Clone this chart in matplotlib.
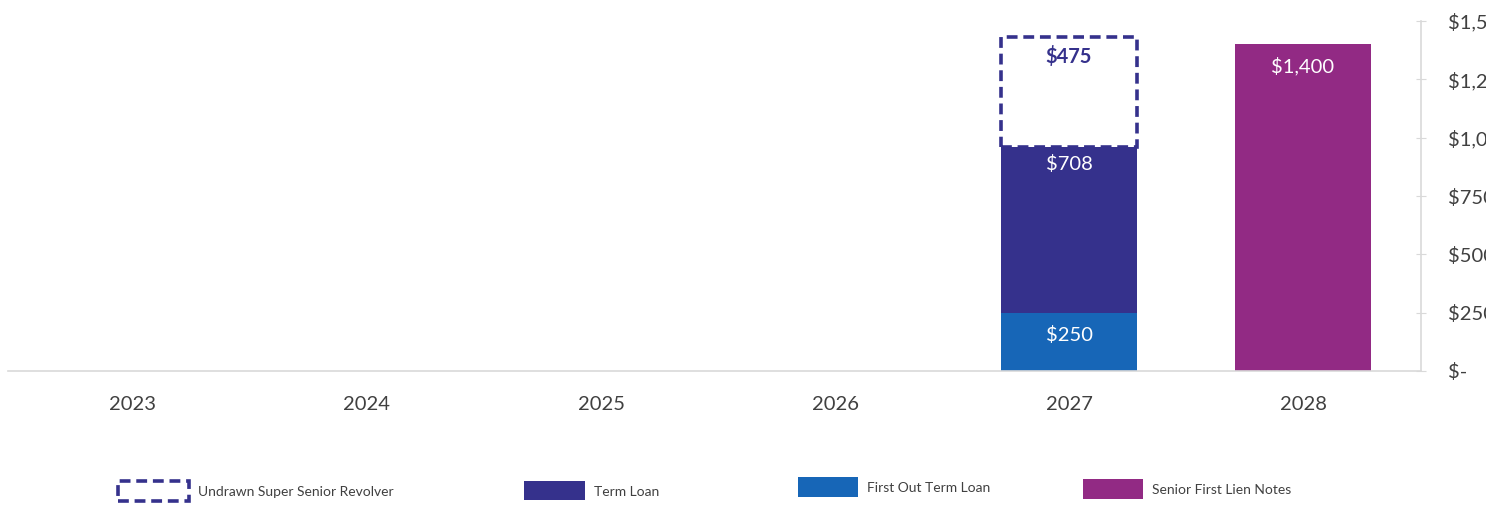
import matplotlib
matplotlib.use("Agg")
import matplotlib.pyplot as plt
from matplotlib.patches import Rectangle
import numpy as np

plt.rcParams['font.family'] = ['Lato', 'DejaVu Sans']

years = ['2023', '2024', '2025', '2026', '2027', '2028']
first_out = [0, 0, 0, 0, 250, 0]
term_loan = [0, 0, 0, 0, 708, 0]
undrawn = [0, 0, 0, 0, 475, 0]
senior_notes = [0, 0, 0, 0, 0, 1400]
yticks = [0, 250, 500, 750, 1000, 1250, 1500]
ytick_labels = ['$-', '$250', '$500', '$750', '$1,000', '$1,250', '$1,500']

c_term = '#35318C'
c_first = '#1766B7'
c_senior = '#922A84'
c_text = '#404040'
c_axis = '#D9D9D9'

W, H = 1486, 507
fig = plt.figure(figsize=(W / 100, H / 100), dpi=100)
ax = fig.add_axes([8 / W, 136 / H, (1421 - 8) / W, 350 / H])

x = np.arange(len(years))
bw = 0.58
fo = np.array(first_out, dtype=float)
tl = np.array(term_loan, dtype=float)
ud = np.array(undrawn, dtype=float)
sn = np.array(senior_notes, dtype=float)


def draw(vals, bottom, label_color, weight='normal', off=-16, **kw):
    m = vals > 0
    bars = ax.bar(x[m], vals[m], bw, bottom=bottom[m], **kw)
    for b, v, bt in zip(bars, vals[m], bottom[m]):
        ax.annotate(f'${v:,.0f}', (b.get_x() + b.get_width() / 2, bt + v),
                    xytext=(0, off), textcoords='offset points',
                    ha='center', va='center', color=label_color, fontsize=14.5,
                    fontweight=weight)
    return bars


zeros = np.zeros(len(x))
draw(fo, zeros, 'white', color=c_first, linewidth=0)
draw(tl, fo, 'white', off=-12, color=c_term, linewidth=0)
draw(ud, fo + tl, c_term, weight='bold', off=-14, facecolor='white',
     edgecolor=c_term, linewidth=2.6, linestyle=(0, (3, 1.6)))
draw(sn, zeros, 'white', color=c_senior, linewidth=0)

ax.set_xlim(-0.534, 5.504)
ax.set_ylim(0, 1500)
ax.set_xticks(x)
ax.set_xticklabels(years, fontsize=14.5, color=c_text)
ax.tick_params(axis='x', length=0, pad=18)
ax.yaxis.tick_right()
ax.set_yticks(yticks)
ax.set_yticklabels(ytick_labels, fontsize=14.5, color=c_text)
ax.tick_params(axis='y', direction='inout', length=7, color=c_axis, pad=16)
for s in ['left', 'top']:
    ax.spines[s].set_visible(False)
for s in ['right', 'bottom']:
    ax.spines[s].set_color(c_axis)
    ax.spines[s].set_linewidth(1.2)


# legend
def px(xp, yp):
    return xp / W, 1 - yp / H


items = [
    (118, 481, 71, 20, 'Undrawn Super Senior Revolver', 'dash'),
    (524, 481, 61, 19, 'Term Loan', c_term),
    (798, 477, 60, 20, 'First Out Term Loan', c_first),
    (1083, 479, 60, 20, 'Senior First Lien Notes', c_senior),
]
for (xp, yp, wp, hp, txt, st) in items:
    x0, y1 = px(xp, yp + hp)
    if st == 'dash':
        r = Rectangle((x0, y1), wp / W, hp / H, transform=fig.transFigure,
                      facecolor='white', edgecolor=c_term, linewidth=2.6,
                      linestyle=(0, (3, 1.6)))
    else:
        r = Rectangle((x0, y1), wp / W, hp / H, transform=fig.transFigure,
                      facecolor=st, edgecolor='none')
    fig.add_artist(r)
    tx, ty = px(xp + wp + 9, yp + hp / 2 + 1)
    fig.text(tx, ty, txt, fontsize=10, color=c_text, ha='left', va='center')

fig.savefig('out.png', dpi=100)
